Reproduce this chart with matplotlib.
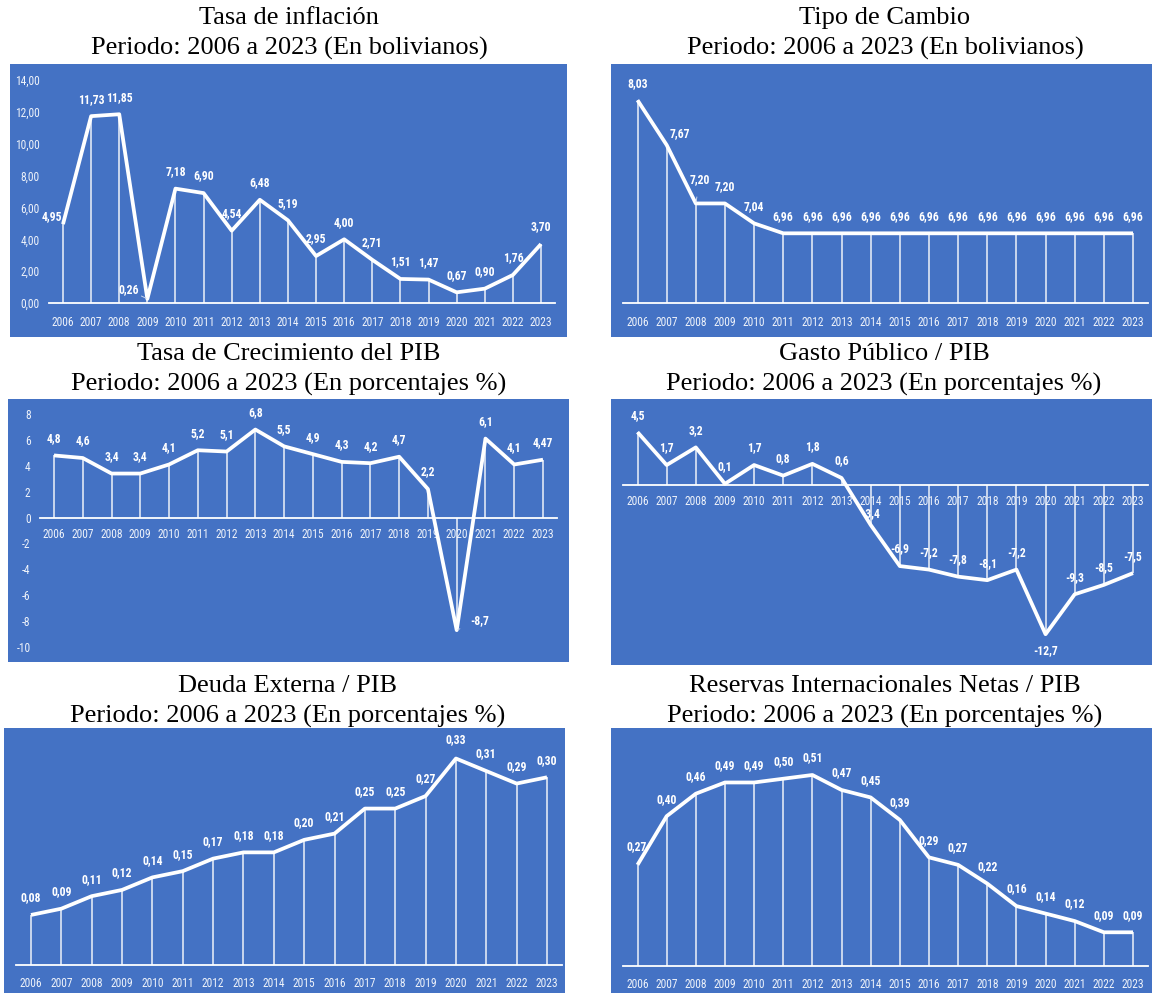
import matplotlib
matplotlib.use("Agg")
import matplotlib.pyplot as plt
from matplotlib.patches import Rectangle
from matplotlib.ticker import FuncFormatter, MultipleLocator, NullLocator

years = [str(y) for y in range(2006, 2024)]
inflacion = [4.95, 11.73, 11.85, 0.26, 7.18, 6.90, 4.54, 6.48, 5.19, 2.95,
             4.00, 2.71, 1.51, 1.47, 0.67, 0.90, 1.76, 3.70]
tipo_cambio = [8.03, 7.67, 7.20, 7.20, 7.04, 6.96, 6.96, 6.96, 6.96, 6.96,
               6.96, 6.96, 6.96, 6.96, 6.96, 6.96, 6.96, 6.96]
crec_pib = [4.8, 4.6, 3.4, 3.4, 4.1, 5.2, 5.1, 6.8, 5.5, 4.9,
            4.3, 4.2, 4.7, 2.2, -8.7, 6.1, 4.1, 4.47]
gasto_pib = [4.5, 1.7, 3.2, 0.1, 1.7, 0.8, 1.8, 0.6, -3.4, -6.9,
             -7.2, -7.8, -8.1, -7.2, -12.7, -9.3, -8.5, -7.5]
deuda_pib = [0.08, 0.09, 0.11, 0.12, 0.14, 0.15, 0.17, 0.18, 0.18, 0.20,
             0.21, 0.25, 0.25, 0.27, 0.33, 0.31, 0.29, 0.30]
reservas_pib = [0.27, 0.40, 0.46, 0.49, 0.49, 0.50, 0.51, 0.47, 0.45, 0.39,
                0.29, 0.27, 0.22, 0.16, 0.14, 0.12, 0.09, 0.09]

W, H = 1152, 993
BLUE = "#4472C4"
NARROW = ["Liberation Sans Narrow", "Roboto Condensed", "DejaVu Sans"]
SERIF = ["Liberation Serif", "DejaVu Serif"]

fig = plt.figure(figsize=(W / 100, H / 100), dpi=100)


def fmt2(v):
    return f"{v:.2f}".replace(".", ",")


def fmtg(v):
    return ("%g" % v).replace(".", ",")


# cada panel: caja azul, posicion del area de trazado (px), titulo, estilo de etiquetas
panels = [
    dict(data=inflacion, title="Tasa de inflación\nPeriodo: 2006 a 2023 (En bolivianos)",
         box=(10, 64, 567, 337), xf=63, xl=541, ylim=(0, 14), ypx=(303, 80),
         fmt=fmt2, yticks=2, yfmt=fmt2, base=0, xpad=9.0, tcx=289, ty=18,
         special={0: (-11, 8), 3: (-19, 9, True)}),
    dict(data=tipo_cambio, title="Tipo de Cambio\nPeriodo: 2006 a 2023 (En bolivianos)",
         box=(611, 64, 1152, 337), xf=637.5, xl=1133, ylim=(6.4, 8.2), ypx=(303, 79),
         fmt=fmt2, yticks=None, base=6.4, xpad=9.0, tcx=885, ty=18,
         special={1: (13, 11), 2: (4, 24, True)}),
    dict(data=crec_pib, title="Tasa de Crecimiento del PIB\nPeriodo: 2006 a 2023 (En porcentajes %)",
         box=(8, 399, 569, 662), xf=54, xl=543, ylim=(-10, 8), ypx=(647, 414),
         fmt=fmtg, yticks=2, yfmt=lambda v: "%d" % v, base=0, xpad=7.5, tcx=289, ty=354,
         special={14: (23, 10, True)}),
    dict(data=gasto_pib, title="Gasto Público / PIB\nPeriodo: 2006 a 2023 (En porcentajes %)",
         box=(611, 399, 1152, 665), xf=637.5, xl=1133, ylim=(-14, 6), ypx=(649.5, 414.5),
         fmt=fmtg, yticks=None, base=0, xpad=7.5, tcx=884, ty=354,
         special={8: (0, 11), 14: (0, -16)}),
    dict(data=deuda_pib, title="Deuda Externa / PIB\nPeriodo: 2006 a 2023 (En porcentajes %)",
         box=(4, 728, 565, 993), xf=31, xl=547, ylim=(0, 0.35), ypx=(965, 746),
         fmt=fmt2, yticks=None, base=0, xpad=8.5, tcx=288, ty=686,
         special={14: (0, 19)}),
    dict(data=reservas_pib, title="Reservas Internacionales Netas / PIB\nPeriodo: 2006 a 2023 (En porcentajes %)",
         box=(611, 728, 1152, 993), xf=637.5, xl=1133, ylim=(0, 0.55), ypx=(966, 760),
         fmt=fmt2, yticks=None, base=0, xpad=8.5, tcx=885, ty=686,
         special={0: (-1, 18)}),
]

for p in panels:
    x0, y0, x1, y1 = p["box"]
    fig.add_artist(Rectangle((x0 / W, 1 - y1 / H), (x1 - x0) / W, (y1 - y0) / H,
                             transform=fig.transFigure, facecolor=BLUE,
                             edgecolor="none", zorder=-5))
    for k, line in enumerate(p["title"].split("\n")):
        fig.text(p["tcx"] / W, 1 - (p["ty"] + 30 * k) / H, line, ha="center",
                 va="center", family=SERIF, fontsize=19, color="black")

    step = (p["xl"] - p["xf"]) / 17
    left = p["xf"] - step / 2
    right = p["xl"] + step / 2
    ybot, ytop = p["ypx"]
    ax = fig.add_axes([left / W, 1 - ybot / H, (right - left) / W, (ybot - ytop) / H])
    ax.set_facecolor("none")
    ax.set_xlim(-0.5, 17.5)
    ax.set_ylim(*p["ylim"])
    for s in ["top", "right", "left"]:
        ax.spines[s].set_visible(False)
    ax.spines["bottom"].set_color("white")
    ax.spines["bottom"].set_linewidth(1.3)
    ax.spines["bottom"].set_position(("data", p["base"]))

    xs = list(range(len(years)))
    vals = p["data"]
    ax.vlines(xs, p["base"], vals, color="white", lw=1.1, alpha=0.9, zorder=2)
    ax.plot(xs, vals, color="white", lw=2.7, solid_joinstyle="round",
            solid_capstyle="butt", zorder=3, clip_on=False)

    ax.set_xticks(xs)
    ax.set_xticklabels(years, family=NARROW, fontsize=8.3, color="#eef2fa")
    ax.tick_params(axis="x", length=0, pad=p["xpad"])
    if p["yticks"]:
        ax.yaxis.set_major_locator(MultipleLocator(p["yticks"]))
        ax.yaxis.set_major_formatter(FuncFormatter(lambda v, pos, f=p["yfmt"]: f(v)))
        ax.tick_params(axis="y", length=0, pad=6.5, labelsize=8.3, labelcolor="#eef2fa")
        for t in ax.get_yticklabels():
            t.set_family(NARROW)
    else:
        ax.yaxis.set_major_locator(NullLocator())

    for i, v in enumerate(vals):
        off = p["special"].get(i, (0, 17))
        dx, dy = off[0], off[1]
        kw = {}
        if len(off) > 2:
            kw["arrowprops"] = dict(arrowstyle="-", color="#c9d4ec", lw=0.7,
                                    shrinkA=6, shrinkB=1)
        ax.annotate(p["fmt"](v), xy=(i, v), xytext=(dx, dy),
                    textcoords="offset pixels", ha="center", va="center",
                    family=NARROW, fontsize=8.5, fontweight="bold", color="white",
                    zorder=4, annotation_clip=False, **kw)

fig.savefig("out.png", dpi=100)
